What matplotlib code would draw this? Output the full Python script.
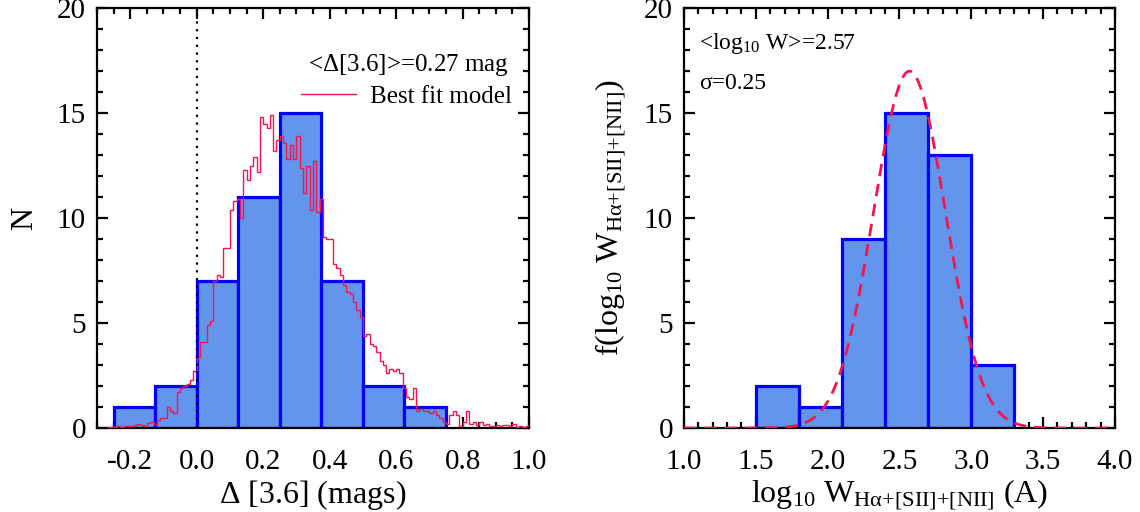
import numpy as np
import matplotlib
matplotlib.use("Agg")
import matplotlib.pyplot as plt
from matplotlib.ticker import MultipleLocator
from matplotlib.lines import Line2D

plt.rcParams['font.family'] = ['Liberation Serif', 'DejaVu Serif']
plt.rcParams['mathtext.fontset'] = 'custom'
plt.rcParams['mathtext.rm'] = 'Liberation Serif'
plt.rcParams['mathtext.it'] = 'Liberation Serif:italic'
plt.rcParams['axes.unicode_minus'] = False

# --- left panel: Delta [3.6] histogram ---
dmag_edges = [-0.25, -0.125, 0.0, 0.125, 0.25, 0.375, 0.5, 0.625, 0.75]
dmag_counts = [1, 2, 7, 11, 15, 7, 2, 1]
dmag_mean = 0.27

# best fit model, fine steps of 0.01 mag starting at -0.27
model_start = -0.27
model_step = 0.01
model_vals = [
    0.05, 0.05, 0.05, 0.1, 0.05, 0.1, 0.1, 0.1, 0.15, 0.2,
    0.15, 0.1, 0.25, 0.3, 0.2, 0.4, 0.5, 0.5, 1.0, 0.8,
    0.7, 1.7, 1.9, 2.0, 2.1, 2.3, 2.7, 3.4, 4.1, 4.1,
    4.9, 5.1, 7.0, 7.3, 7.2, 8.6, 8.6, 10.4, 10.8, 10.9,
    10.0, 12.3, 11.8, 12.5, 12.9, 12.2, 14.8, 14.5, 14.3, 14.9,
    13.2, 13.7, 13.9, 13.6, 12.8, 13.5, 12.8, 13.9, 12.4, 11.2,
    12.5, 10.4, 12.7, 10.3, 10.9, 9.1, 9.0, 9.0, 7.8, 7.6,
    7.3, 6.8, 6.5, 6.4, 6.0, 5.6, 5.3, 4.4, 4.5, 4.0,
    3.9, 3.6, 3.2, 3.0, 2.6, 2.8, 2.7, 2.8, 2.6, 1.9,
    1.5, 1.4, 1.9, 0.8, 0.9, 0.8, 0.8, 0.7, 0.8, 0.6,
    0.5, 0.3, 0.2, 0.6, 0.8, 0.6, 0.1, 0.3, 0.8, 0.2,
    0.3, 0.15, 0.3, 0.15, 0.2, 0.1, 0.1, 0.15, 0.1, 0.15,
    0.15, 0.1, 0.2, 0.05, 0.1, 0.05, 0.1,
]

# --- right panel: log10 W histogram ---
logw_edges = [1.5, 1.8, 2.1, 2.4, 2.7, 3.0, 3.3]
logw_counts = [2, 1, 9, 15, 13, 3]
logw_mean = 2.57
logw_sigma = 0.25
logw_peak = 17.0

FILL = '#6495ED'
EDGE = '#0000FF'
RED = '#F5144E'


def style_axis(ax, xmajor, xminor):
    ax.set_ylim(0, 20)
    ax.xaxis.set_major_locator(MultipleLocator(xmajor))
    ax.xaxis.set_minor_locator(MultipleLocator(xminor))
    ax.yaxis.set_major_locator(MultipleLocator(5))
    ax.yaxis.set_minor_locator(MultipleLocator(1))
    ax.tick_params(which='both', direction='in', top=True, right=True, width=1.6)
    ax.tick_params(which='major', length=8, labelsize=21)
    ax.tick_params(which='minor', length=4)
    ax.tick_params(axis='x', which='major', pad=15)
    ax.tick_params(axis='y', which='major', pad=8)
    for sp in ax.spines.values():
        sp.set_linewidth(1.6)


fig = plt.figure(figsize=(11.4, 5.12), dpi=100)

# left
ax1 = fig.add_axes([0.0851, 0.164, 0.379, 0.820])
ax1.bar(dmag_edges[:-1], dmag_counts, width=np.diff(dmag_edges), align='edge',
        color=FILL, edgecolor=EDGE, linewidth=2.3, zorder=2)
model_edges = model_start + model_step * np.arange(len(model_vals) + 1)
ax1.stairs(model_vals, model_edges, color=RED, linewidth=1.0, zorder=3)
ax1.axvline(0.0, color='black', linestyle=(0, (1, 2.5)), linewidth=1.6, zorder=4)
ax1.set_xlim(-0.3, 1.0)
style_axis(ax1, 0.2, 0.05)
ax1.set_xlabel(r'$\Delta$ [3.6] (mags)', fontsize=23, labelpad=2)
ax1.set_ylabel('N', fontsize=23)
ax1.yaxis.set_label_coords(-0.134, 0.5)
ax1.text(0.952, 0.865, r'<$\Delta$[3.6]>=%.2f mag' % dmag_mean, transform=ax1.transAxes,
         ha='right', va='center', fontsize=18)
h = Line2D([], [], color=RED, linewidth=1.0)
ax1.legend(handles=[h], labels=['Best fit model'], loc='center right',
           bbox_to_anchor=(0.96, 0.79), frameon=False, fontsize=18,
           handlelength=2.2, handletextpad=0.55, borderpad=0, borderaxespad=0)

# right
ax2 = fig.add_axes([0.600, 0.164, 0.378, 0.820])
ax2.bar(logw_edges[:-1], logw_counts, width=np.diff(logw_edges), align='edge',
        color=FILL, edgecolor=EDGE, linewidth=2.3, zorder=2)
xg = np.linspace(1.0, 4.0, 400)
yg = logw_peak * np.exp(-0.5 * ((xg - logw_mean) / logw_sigma) ** 2)
ax2.plot(xg, yg, color=RED, linewidth=2.0, dashes=(4.5, 2.8), zorder=3)
ax2.set_xlim(1.0, 4.0)
style_axis(ax2, 0.5, 0.1)
ax2.set_xlabel(r'log$_{10}$ W$_{\mathrm{H\alpha{+}[SII]{+}[NII]}}$ (A)', fontsize=23, labelpad=2)
ax2.set_ylabel(r'f(log$_{10}$ W$_{\mathrm{H\alpha{+}[SII]{+}[NII]}}$)', fontsize=23)
ax2.yaxis.set_label_coords(-0.128, 0.5)
ax2.text(0.035, 0.915, r'<log$_{10}$ W>=%.2f' % logw_mean, transform=ax2.transAxes,
         ha='left', va='center', fontsize=17)
ax2.text(0.035, 0.82, 'σ=%.2f' % logw_sigma, transform=ax2.transAxes,
         ha='left', va='center', fontsize=17)

fig.savefig('out.png', dpi=100)
